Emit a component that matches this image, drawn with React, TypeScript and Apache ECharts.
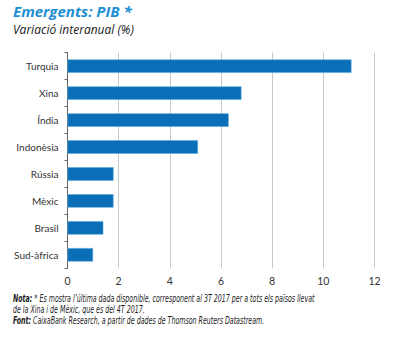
import React, { useEffect, useRef } from "react";
import * as echarts from "echarts";

const categories = ["Turquia", "Xina", "Índia", "Indonèsia", "Rússia", "Mèxic", "Brasil", "Sud-àfrica"];
const values = [11.1, 6.8, 6.3, 5.1, 1.8, 1.8, 1.4, 1.0];
const xTicks = [0, 2, 4, 6, 8, 10, 12];

const title = "Emergents: PIB *";
const subtitle = "Variació interanual (%)";
const note1a = "Nota:";
const note1b = " * Es mostra l’última dada disponible, corresponent al 3T 2017 per a tots els països llevat";
const note2 = "de la Xina i de Mèxic, que és del 4T 2017.";
const note3a = "Font:";
const note3b = " CaixaBank Research, a partir de dades de Thomson Reuters Datastream.";

export default function App() {
  const ref = useRef<HTMLDivElement>(null);
  useEffect(() => {
    if (!ref.current) return;
    const chart = echarts.init(ref.current, null, { renderer: "svg" });
    const noteFont = "'Liberation Sans Narrow', 'DejaVu Sans Condensed', sans-serif";
    const labelFont = "Lato, 'Open Sans', sans-serif";
    chart.setOption({
      animation: false,
      backgroundColor: "#ffffff",
      grid: { left: 67.5, right: 19.5, top: 52.7, bottom: 69.7, containLabel: false },
      xAxis: {
        type: "value",
        min: xTicks[0],
        max: xTicks[xTicks.length - 1],
        interval: 2,
        axisLine: { show: false },
        axisTick: { show: false },
        splitLine: { show: true, lineStyle: { color: "#c8c8c8", width: 1 } },
        axisLabel: { color: "#333", fontSize: 10.5, fontFamily: labelFont, margin: 7 },
      },
      yAxis: {
        type: "category",
        data: categories,
        inverse: true,
        axisLine: { show: true, lineStyle: { color: "#666", width: 1 } },
        axisTick: { show: true, length: 3, lineStyle: { color: "#666" } },
        axisLabel: { color: "#333", fontSize: 10, fontFamily: labelFont, margin: 9 },
      },
      series: [
        {
          type: "bar",
          data: values,
          barWidth: "50%",
          itemStyle: { color: "#0a6fb7", borderColor: "#5aa7db", borderWidth: 0.6 },
        },
      ],
      graphic: [
        {
          type: "text",
          left: 13,
          top: 3,
          style: { text: title, fill: "#1e8fd2", font: "italic bold 15px 'Open Sans', sans-serif" },
        },
        {
          type: "text",
          left: 13,
          top: 23,
          style: { text: subtitle, fill: "#222", font: "italic 12px 'Open Sans', sans-serif" },
        },
        {
          type: "group",
          x: 13,
          y: 294,
          scaleX: 0.7,
          children: [
            {
              type: "text",
              x: 0,
              y: 0,
              style: {
                text: "{b|" + note1a + "}{n|" + note1b + "}",
                rich: {
                  b: { font: "italic bold 10px " + noteFont, fill: "#222" },
                  n: { font: "italic 10px " + noteFont, fill: "#222" },
                },
              },
            },
            {
              type: "text",
              x: 0,
              y: 11,
              style: { text: note2, fill: "#222", font: "italic 10px " + noteFont },
            },
            {
              type: "text",
              x: 0,
              y: 22,
              style: {
                text: "{b|" + note3a + "}{n|" + note3b + "}",
                rich: {
                  b: { font: "italic bold 10px " + noteFont, fill: "#222" },
                  n: { font: "italic 10px " + noteFont, fill: "#222" },
                },
              },
            },
          ],
        },
      ],
    });
    return () => chart.dispose();
  }, []);
  return <div ref={ref} style={{ width: 394, height: 338, position: "absolute", left: 0, top: 0 }} />;
}
